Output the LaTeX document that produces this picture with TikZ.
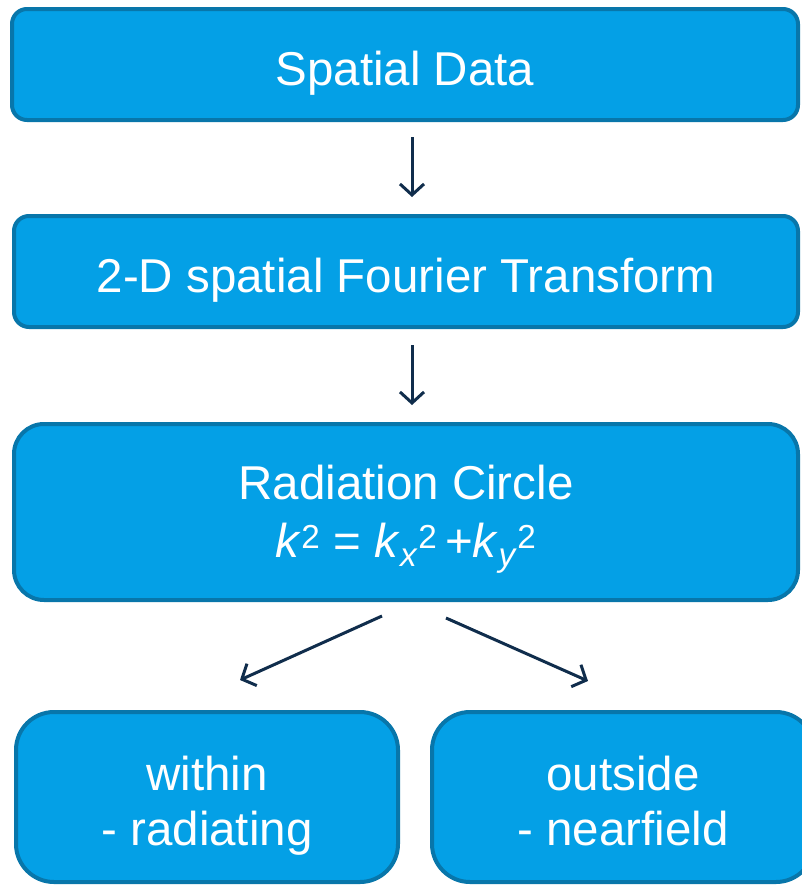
\documentclass[tikz,border=0pt]{standalone}
\usepackage{fontspec}
\setmainfont{Liberation Sans}
\usetikzlibrary{arrows.meta}
\definecolor{boxfill}{RGB}{4,160,230}
\definecolor{boxline}{RGB}{8,118,170}
\definecolor{arrowcol}{RGB}{16,45,76}
% struts to set the text a little low in the boxes
\newcommand{\onestrut}{\rule[-10pt]{0pt}{61pt}}
\newcommand{\topstrut}[1]{\rule{0pt}{#1}}
\newcommand{\botstrut}[1]{\rule[-#1]{0pt}{#1}}

\begin{document}
\begin{tikzpicture}[x=1pt,y=1pt,
        stage/.style={draw=boxline,fill=boxfill,line width=4pt,text=white,
                      align=center,inner sep=0pt,
                      font=\fontsize{47.5}{58}\selectfont},
        flow/.style={draw=arrowcol,line width=3pt,
                     -{Straight Barb[length=11pt,width=24pt,line width=3pt]}}]
                \useasboundingbox (0,0) rectangle (801,-886);
                % boxes
                \node[stage,rounded corners=15pt,minimum width=786pt,minimum height=111pt]
                      (sd) at (405,-64.5) {\onestrut Spatial Data};
                \node[stage,rounded corners=15pt,minimum width=784pt,minimum height=111pt]
                      (ft) at (406,-271.5) {\onestrut 2-D spatial Fourier Transform};
                \node[stage,rounded corners=30pt,minimum width=784pt,minimum height=176pt]
                      (rc) at (406,-512) {\topstrut{48pt}Radiation Circle\\
                      \textit{k}\textsuperscript{2} = \textit{k}\textsubscript{\textit{x}}\textsuperscript{2}\,+\textit{k}\textsubscript{\textit{y}}\textsuperscript{2}\botstrut{14pt}};
                \node[stage,rounded corners=38pt,minimum width=382pt,minimum height=170pt,
                      font=\fontsize{47.5}{55}\selectfont]
                      (wi) at (207,-797) {\topstrut{52pt}within\\- radiating\botstrut{11pt}};
                \node[stage,rounded corners=38pt,minimum width=382pt,minimum height=170pt,
                      font=\fontsize{47.5}{55}\selectfont]
                      (ou) at (623,-797) {\topstrut{52pt}outside\\- nearfield\botstrut{11pt}};
                % arrows
                \draw[flow] ([shift={(7pt,-15pt)}]sd.south) -- ([shift={(6pt,17pt)}]ft.north);
                \draw[flow] ([shift={(6pt,-16pt)}]ft.south) -- ([shift={(6pt,17pt)}]rc.north);
                \draw[flow] ([shift={(-24pt,-14pt)}]rc.south) -- ([shift={(33pt,30pt)}]wi.north);
                \draw[flow] ([shift={(40pt,-16pt)}]rc.south) -- ([shift={(-35pt,29pt)}]ou.north);
\end{tikzpicture}
\end{document}
